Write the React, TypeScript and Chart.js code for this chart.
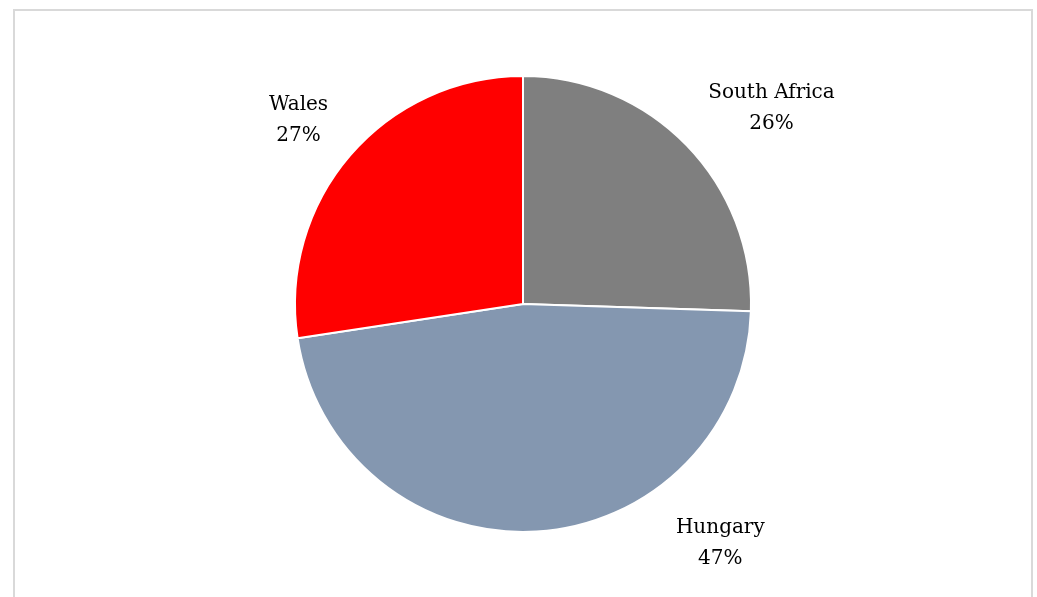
import React, { useEffect, useRef } from "react";
import { Chart, registerables } from "chart.js";

Chart.register(...registerables);

const categories = ["South Africa", "Hungary", "Wales"];
const shares = [25.5, 47.1, 27.4];
const sliceColors = ["#7f7f7f", "#8497b0", "#ff0000"];
// label offsets (px) from a point just outside each slice's mid-angle
const labelOffsetX = [52, 181, -17];
const labelOffsetY = [-5.5, -34, -5.5];

const labelPlugin = {
  id: "pieLabels",
  afterDatasetsDraw(chart: any) {
    const ctx = chart.ctx;
    const meta = chart.getDatasetMeta(0);
    const total = shares.reduce((a, b) => a + b, 0);
    ctx.save();
    ctx.font = '20px "DejaVu Serif"';
    ctx.fillStyle = "#000000";
    ctx.textAlign = "center";
    ctx.textBaseline = "middle";
    meta.data.forEach((arc: any, i: number) => {
      const { x, y, startAngle, endAngle, outerRadius } = arc.getProps(
        ["x", "y", "startAngle", "endAngle", "outerRadius"],
        true
      );
      const mid = (startAngle + endAngle) / 2;
      const d = outerRadius * 1.2;
      const lx = x + Math.cos(mid) * d + labelOffsetX[i];
      const ly = y + Math.sin(mid) * d + labelOffsetY[i];
      const pct = Math.round((shares[i] / total) * 100) + "%";
      ctx.fillText(categories[i], lx, ly - 15.5);
      ctx.fillText(pct, lx, ly + 15.5);
    });
    ctx.restore();
  },
};

export default function App() {
  const ref = useRef<HTMLCanvasElement | null>(null);
  useEffect(() => {
    if (!ref.current) return;
    const chart = new Chart(ref.current, {
      type: "pie",
      data: {
        labels: categories,
        datasets: [
          {
            data: shares,
            backgroundColor: sliceColors,
            borderColor: "#ffffff",
            borderWidth: 2,
          },
        ],
      },
      options: {
        animation: false,
        responsive: false,
        maintainAspectRatio: false,
        layout: { padding: { left: 294, right: 285, top: 75, bottom: 64 } },
        plugins: {
          legend: { display: false },
          tooltip: { enabled: false },
        },
      },
      plugins: [labelPlugin],
    });
    return () => chart.destroy();
  }, []);
  return (
    <div>
      <div
        style={{
          position: "absolute",
          left: 13,
          top: 9,
          width: 1016,
          height: 640,
          border: "2px solid #d9d9d9",
          boxSizing: "content-box",
        }}
      />
      <canvas
        ref={ref}
        width={1037}
        height={597}
        style={{ position: "absolute", left: 0, top: 0, width: 1037, height: 597 }}
      />
    </div>
  );
}
